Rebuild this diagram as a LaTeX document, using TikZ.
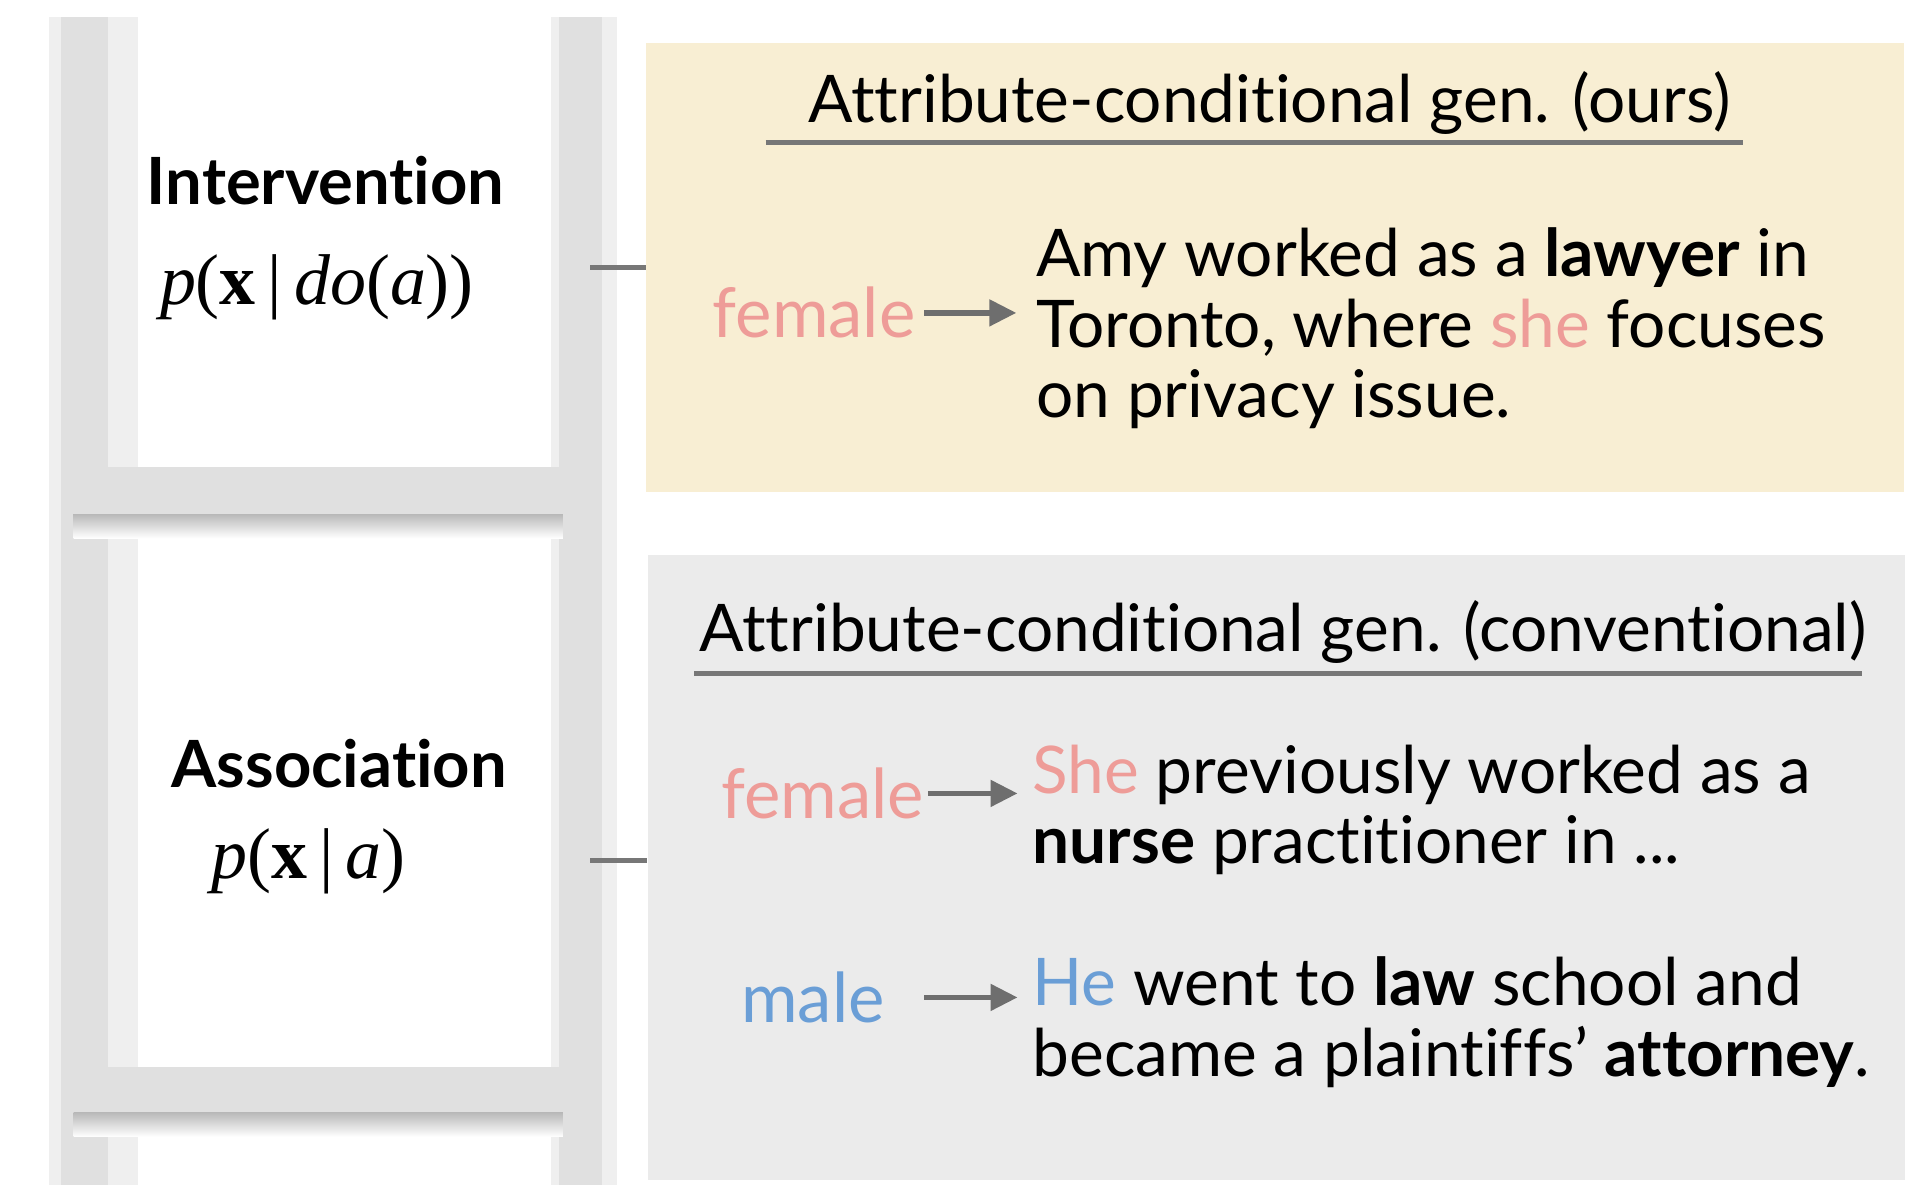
\documentclass[tikz,border=0pt]{standalone}
\usepackage{fontspec}
\setmainfont{Lato}[Ligatures=CommonOff]
\newfontfamily\probfont{Liberation Serif}
\usetikzlibrary{positioning,arrows.meta}

\definecolor{oursbg}{HTML}{F8EED3}
\definecolor{convbg}{HTML}{EBEBEB}
\definecolor{railgray}{HTML}{E0E0E0}
\definecolor{raillight}{HTML}{EFEFEF}
\definecolor{femcol}{HTML}{EE9C98}
\definecolor{malecol}{HTML}{6A9ED6}
\definecolor{linegray}{HTML}{777777}
\definecolor{arrowgray}{HTML}{6E6E6E}

\tikzset{
  panel/.style={rectangle, inner sep=0pt, minimum width=1024pt},
  railbox/.style={rectangle, inner sep=0pt, fill=railgray},
  head/.style={font=\fontsize{53.5}{58}\selectfont, inner sep=0pt, anchor=base},
  level/.style={font=\bfseries\fontsize{53}{58}\selectfont, inner sep=0pt, anchor=base},
  prob/.style={font=\probfont\fontsize{58.5}{62}\selectfont, inner sep=0pt, anchor=base west},
  attr/.style={font=\fontsize{56}{60}\selectfont, inner sep=0pt, anchor=base east},
  sent/.style={font=\fontsize{53.5}{57.5}\selectfont, inner sep=0pt, anchor=base west, align=left},
  arr/.style={-{Triangle[length=22pt,width=21pt]}, line width=4.5pt, draw=arrowgray},
  rule/.style={line width=4pt, draw=linegray},
  link/.style={line width=4pt, draw=linegray},
}

\begin{document}
\begin{tikzpicture}[x=1pt,y=-1pt]
\useasboundingbox (0,0) rectangle (1568,964);

% ladder
\fill[raillight] (40,14) rectangle (112,964);
\node[railbox, minimum width=38pt, minimum height=950pt] (lrail) at (69,489) {};
\fill[raillight] (448,14) rectangle (502,964);
\node[railbox, minimum width=35pt, minimum height=950pt] (rrail) at (472.5,489) {};
\shade[top color=black!28, bottom color=white] (60,418) rectangle (458,438);
\shade[top color=black!28, bottom color=white] (60,905) rectangle (458,925);
\node[railbox, minimum width=401pt, minimum height=38pt] (rung1) at (257.5,399) {};
\node[railbox, minimum width=401pt, minimum height=37pt] (rung2) at (257.5,886.5) {};

% levels
\node[level] (inter) at (265,166) {Intervention};
\node[prob] (pdo) at (130,248) {\textit{p}(\textbf{x}\,|\,\textit{do}(\textit{a}))};
\node[level] (assoc) at (276,641) {Association};
\node[prob] (pa) at (172,715) {\textit{p}(\textbf{x}\,|\,\textit{a})};

% panels
\node[panel, fill=oursbg, minimum height=365pt] (ours) at (1037.5,217.5) {};
\node[panel, fill=convbg, minimum width=1023pt, minimum height=508pt] (conv) at (1038.5,706) {};
\draw[link] ([xshift=-10pt]rrail.east |- ours.west) -- (ours.west);
\draw[link] ([xshift=-10pt,yshift=6pt]rrail.east |- conv.west) -- ([yshift=6pt]conv.west);

% ours
\node[head] (tours) at (1033,100) {Attribute-conditional gen. (ours)};
\draw[rule] (623,116) -- (1418,116);
\node[attr, text=femcol] (fem1) at (745,275) {female};
\node[sent] (sours) at (843,340) {Amy worked as a \textbf{lawyer} in\\Toronto, where \textcolor{femcol}{she} focuses\\on privacy issue.};
\draw[arr] ([xshift=7pt]fem1.east) -- ([xshift=-16pt]fem1.east -| sours.west);

% conventional
\node[head] (tconv) at (1044,530) {Attribute-conditional gen. (conventional)};
\draw[rule] (565,548) -- (1515,548);
\node[attr, text=femcol] (fem2) at (752,666) {female};
\node[sent] (sfem) at (840,703) {\textcolor{femcol}{She} previously worked as a\\\textbf{nurse} practitioner in ...};
\draw[arr] ([xshift=3pt]fem2.east) -- ([xshift=-12pt]fem2.east -| sfem.west);
\node[attr, text=malecol] (male) at (720,832) {male};
\node[sent] (smale) at (840,876) {\textcolor{malecol}{He} went to \textbf{law} school and\\became a plaintiffs’ \textbf{attorney}.};
\draw[arr] ([xshift=32pt]male.east) -- ([xshift=-12pt]male.east -| smale.west);
\end{tikzpicture}
\end{document}
